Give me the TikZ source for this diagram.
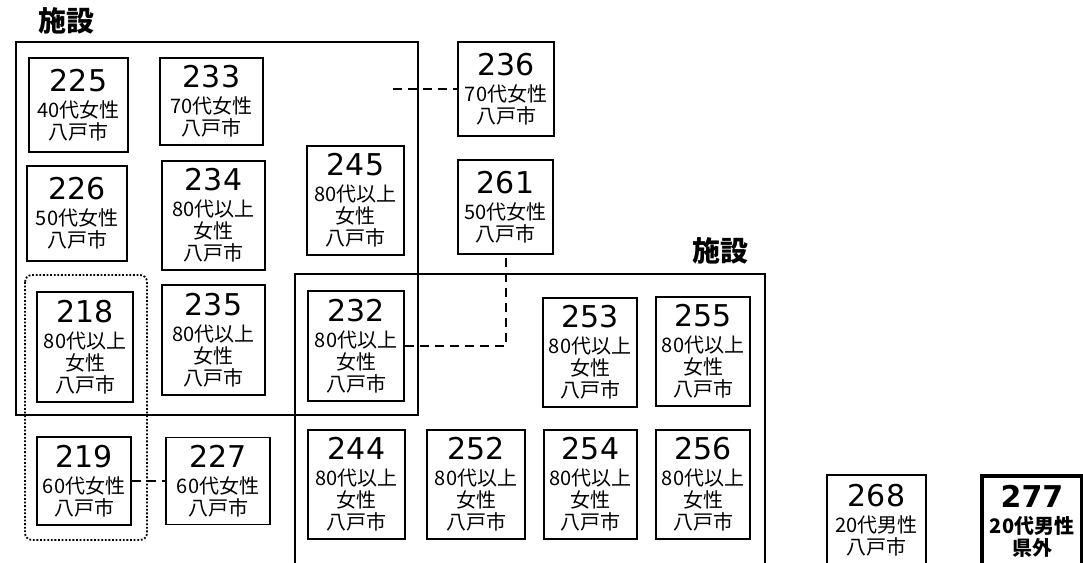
\documentclass[tikz,border=0pt]{standalone}
\usepackage{fontspec}
\setmainfont{Noto Sans CJK JP}
\newfontfamily\numf{DejaVu Sans}
\newcommand\pnum[1]{{\numf\fontsize{30}{30}\selectfont #1}\\[4pt]}
\tikzset{
  pbox/.style={draw, line width=1.5pt, inner sep=0pt, align=center,
               font=\fontsize{20}{22}\selectfont},
  facil/.style={draw, line width=2.5pt},
  grp/.style={draw, line width=1.8pt, dash pattern=on 1.8pt off 1.8pt, rounded corners=7pt},
  link/.style={draw, line width=2pt, dash pattern=on 9pt off 6pt},
  ttl/.style={font=\fontsize{28}{30}\selectfont\bfseries, inner sep=0pt},
}
\begin{document}
\begin{tikzpicture}[x=1pt, y=-1pt]
\useasboundingbox (0,0) rectangle (1083,562);
\clip (0,0) rectangle (1083,562);
\fill[white] (0,0) rectangle (1083,562);

% facility groups
\node[ttl] (t1) at (66,21) {施設};
\draw[facil] (16,42) rectangle (418,415);
\node[ttl] (t2) at (720,251) {施設};
\draw[facil] (295,274) rectangle (765,600);
\draw[grp] (25,275) rectangle (147,540);

% boxes
\node[pbox, minimum width=99pt, minimum height=94pt] (b225) at (78.5,105) {\pnum{225}40代女性\\八戸市};
\node[pbox, minimum width=103pt, minimum height=87pt] (b233) at (211.5,101.5) {\pnum{233}70代女性\\八戸市};
\node[pbox, minimum width=100pt, minimum height=95pt] (b226) at (77,213.5) {\pnum{226}50代女性\\八戸市};
\node[pbox, minimum width=103pt, minimum height=109pt] (b234) at (213.5,215.5) {\pnum{234}80代以上\\女性\\八戸市};
\node[pbox, minimum width=97pt, minimum height=109pt] (b245) at (355.5,200.5) {\pnum{245}80代以上\\女性\\八戸市};
\node[pbox, minimum width=96pt, minimum height=110pt] (b218) at (85,347) {\pnum{218}80代以上\\女性\\八戸市};
\node[pbox, minimum width=103pt, minimum height=110pt] (b235) at (213.5,340) {\pnum{235}80代以上\\女性\\八戸市};
\node[pbox, minimum width=96pt, minimum height=110pt] (b232) at (356,346) {\pnum{232}80代以上\\女性\\八戸市};
\node[pbox, minimum width=94pt, minimum height=88pt] (b219) at (84,481) {\pnum{219}60代女性\\八戸市};
\node[pbox, minimum width=104pt, minimum height=87pt] (b227) at (218,481) {\pnum{227}60代女性\\八戸市};
\node[pbox, minimum width=97pt, minimum height=109pt] (b244) at (356.5,484.5) {\pnum{244}80代以上\\女性\\八戸市};
\node[pbox, minimum width=98pt, minimum height=109pt] (b252) at (476,484.5) {\pnum{252}80代以上\\女性\\八戸市};
\node[pbox, minimum width=93pt, minimum height=109pt] (b254) at (590.5,484.5) {\pnum{254}80代以上\\女性\\八戸市};
\node[pbox, minimum width=94pt, minimum height=109pt] (b256) at (703,484.5) {\pnum{256}80代以上\\女性\\八戸市};
\node[pbox, minimum width=94pt, minimum height=109pt] (b253) at (590,352.5) {\pnum{253}80代以上\\女性\\八戸市};
\node[pbox, minimum width=94pt, minimum height=109pt] (b255) at (703,351.5) {\pnum{255}80代以上\\女性\\八戸市};
\node[pbox, minimum width=96pt, minimum height=94pt] (b236) at (506,89) {\pnum{236}70代女性\\八戸市};
\node[pbox, minimum width=95pt, minimum height=94pt] (b261) at (505.5,207) {\pnum{261}50代女性\\八戸市};
\node[pbox, minimum width=99pt, minimum height=91pt] (b268) at (876.5,520.5) {\pnum{268}20代男性\\八戸市};
\node[pbox, line width=4pt, minimum width=100pt, minimum height=90pt, font=\fontsize{20}{22}\selectfont\bfseries] (b277) at (1032,521) {{\numf\bfseries\fontsize{30}{30}\selectfont 277}\\[4pt]20代男性\\県外};

% connectors
\coordinate (c236) at (393,89);
\draw[link] (c236) -- (b236.west);
\draw[link] (b219.east) -- (b227.west);
\draw[link] (b232.east) -| (b261.south);
\end{tikzpicture}
\end{document}
